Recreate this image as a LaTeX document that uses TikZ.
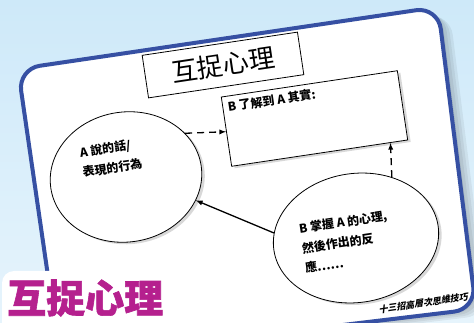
\documentclass[tikz,border=0pt]{standalone}
\usepackage{fontspec}
\usetikzlibrary{calc,positioning,arrows,shapes.geometric,shadows}
\newfontfamily\cjk{Noto Sans CJK TC}
\newfontfamily\cjkheavy[FakeBold=1.5]{Noto Sans CJK TC}
\newfontfamily\cjkslant[FakeSlant=0.25]{Noto Sans CJK TC}
\definecolor{cardblue}{RGB}{54,80,163}
\definecolor{logopink}{RGB}{181,32,142}
\definecolor{skytop}{RGB}{206,233,249}
\definecolor{skybot}{RGB}{230,244,252}
\tikzstyle{bubble}=[ellipse,draw,thick,fill=white,rotate=8.5,
  drop shadow={shadow xshift=3pt,shadow yshift=-2pt,opacity=0.3}]

\begin{document}
\begin{tikzpicture}[x=1pt,y=-1pt,
    box/.style={draw,thick,fill=white,rotate=8.5,inner sep=0},
    lbl/.style={rotate=8.5,align=left,inner sep=0,
      font=\cjk\bfseries\fontsize{12}{20}\selectfont},
    arr/.style={-latex,line width=1.3pt},
    dasharr/.style={arr,dash pattern=on 7pt off 5pt}
    ]

    \useasboundingbox (0,0) rectangle (474,323);

    % sky
    \shade[top color=skytop,bottom color=skybot] (0,0) rectangle (474,323);

    % card corners
    \coordinate (ctl) at (18,69);
    \coordinate (ctr) at (438,7);
    \coordinate (cbr) at (476,309);
    \coordinate (cbl) at (60,359);

    % card shadow
    \foreach \s in {3,6,9,12} {
      \fill[black,opacity=0.06,rounded corners=22pt]
        ([shift={(\s,{0.5*\s})}]ctl) -- ([shift={(\s,{0.5*\s})}]ctr) --
        ([shift={(\s,{0.5*\s})}]cbr) -- ([shift={(\s,{0.5*\s})}]cbl) -- cycle;
    }

    % card
    \draw[cardblue,line width=4pt,fill=white,rounded corners=22pt]
      (ctl) -- (ctr) -- (cbr) -- (cbl) -- cycle;

    % title
    \node[box,minimum width=157pt,minimum height=43pt,
      font=\cjk\fontsize{26}{26}\selectfont] (title) at (223,65) {互捉心理};

    % what B learns
    \node[box,inner sep=5pt,font=\cjk\bfseries\fontsize{12}{20}\selectfont,
      drop shadow={shadow xshift=3pt,shadow yshift=-2pt,opacity=0.3}]
      (know) at (314.5,118.5) {\parbox[t][60pt][t]{168pt}{B 了解到 A 其實:}};

    % the two bubbles
    \node[bubble,minimum width=152pt,minimum height=130pt] (say) at (126,177) {};
    \node[bubble,minimum width=166pt,minimum height=129pt] (grasp) at (356,238) {};

    \node[lbl] (saytxt) at ($(say)+(-15,-19)$) {A 說的話/\\表現的行為};
    \node[lbl] (grasptxt) at ($(grasp)+(-10,4)$) {B 掌握 A 的心理,\\然後作出的反\\應……};

    % arrows
    \draw[dasharr] (say.28) -- (know.west);
    \draw[dasharr] (grasp.51) -- ($(know.south west)!0.9!(know.south east)$);
    \draw[arr] (grasp.168) -- (say.333);

    % logo
    \fill[white,rounded corners=12pt] (2,271) rectangle (190,340);
    \node[font=\cjkheavy\bfseries\fontsize{39}{39}\selectfont,text=logopink,
      inner sep=0,anchor=west] (logo) at (7,298) {互捉心理};

    % series name
    \node[rotate=8.5,font=\cjkslant\bfseries\fontsize{9}{9}\selectfont]
      (series) at (423,303) {十三招高層次思維技巧};

\end{tikzpicture}
\end{document}
